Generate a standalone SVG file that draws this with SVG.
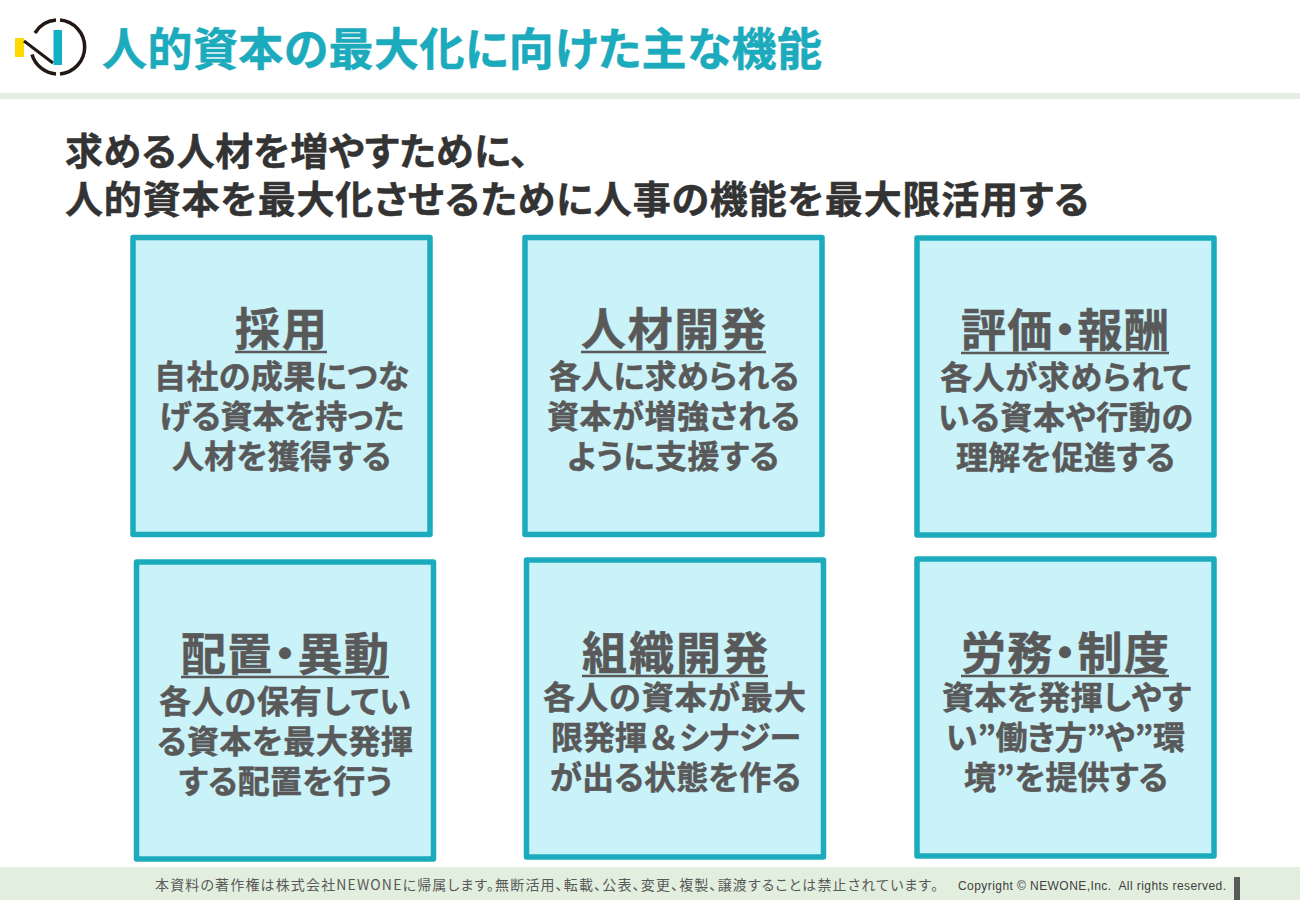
<svg xmlns="http://www.w3.org/2000/svg" width="1300" height="900" viewBox="0 0 1300 900">
<style>
text{font-family:"Noto Sans CJK JP","Noto Sans",sans-serif;font-feature-settings:"palt"}
.box{fill:#c9f2f9;stroke:#1caabd;stroke-width:5.500;stroke-linejoin:round}
.h{font-size:45px;font-weight:700;fill:#595959;stroke:#595959;stroke-width:.5}
.b{font-size:32px;font-weight:700;fill:#595959;stroke:#595959;stroke-width:.5}
.u{stroke:#595959;stroke-width:2.5}
.sub{font-size:38px;font-weight:700;fill:#333;stroke:#333;stroke-width:.5}
.wide{font-feature-settings:normal}
</style>
<rect width="1300" height="900" fill="#fff"/>
<g id="header">
<rect x="0" y="93" width="1300" height="6" fill="#e2efdf"/>
<rect x="15" y="38" width="9" height="19" fill="#ffd900"/>
<path d="M60 20.100A27 27 0 0 1 60 73.900M56 73.900A27 27 0 0 1 32 54.500M35 33A27 27 0 0 1 56 20.100" fill="none" stroke="#231815" stroke-width="3.500"/>
<path d="M24 41L53 63" fill="none" stroke="#231815" stroke-width="3"/>
<rect x="53.500" y="30" width="8.500" height="35" fill="#12b0c4"/>
<text x="102" y="66" font-size="45" font-weight="700" fill="#1caabd" stroke="#1caabd" stroke-width=".5" textLength="720">人的資本の最大化に向けた主な機能</text>
</g>
<g id="subtitle">
<text class="sub" x="65" y="165" textLength="464">求める人材を増やすために、</text>
<text class="sub" x="65" y="213" textLength="1024">人的資本を最大化させるために人事の機能を最大限活用する</text>
</g>
<g id="node-saiyo">
<rect class="box" x="133" y="237.500" width="297" height="297"/>
<text class="h" x="235" y="346" textLength="92">採用</text><line class="u" x1="235" y1="352" x2="327" y2="352"/>
<text class="b" x="154" y="388" textLength="255">自社の成果につな</text>
<text class="b" x="159" y="428" textLength="245">げる資本を持った</text>
<text class="b" x="172" y="468" textLength="219">人材を獲得する</text>
</g>
<g id="node-jinzai">
<rect class="box" x="525" y="237.500" width="297" height="297"/>
<text class="h" x="581" y="346" textLength="185">人材開発</text><line class="u" x1="581" y1="352" x2="766" y2="352"/>
<text class="b" x="549" y="388" textLength="250">各人に求められる</text>
<text class="b" x="547" y="428" textLength="253">資本が増強される</text>
<text class="b" x="567" y="468" textLength="212">ように支援する</text>
</g>
<g id="node-hyoka">
<rect class="box" x="917" y="238" width="297" height="297"/>
<text class="h" x="961" y="347" textLength="208">評価・報酬</text><line class="u" x1="961" y1="353" x2="1169" y2="353"/>
<text class="b" x="940" y="389" textLength="251">各人が求められて</text>
<text class="b" x="938" y="429" textLength="255">いる資本や行動の</text>
<text class="b" x="956" y="469" textLength="219">理解を促進する</text>
</g>
<g id="node-haichi">
<rect class="box" x="136.500" y="562" width="297" height="297"/>
<text class="h" x="181" y="671" textLength="208">配置・異動</text><line class="u" x1="181" y1="677" x2="389" y2="677"/>
<text class="b" x="159" y="713" textLength="252">各人の保有してい</text>
<text class="b" x="157" y="753" textLength="256">る資本を最大発揮</text>
<text class="b" x="179" y="793" textLength="213">する配置を行う</text>
</g>
<g id="node-soshiki">
<rect class="box" x="526.500" y="560" width="297" height="297"/>
<text class="h" x="582" y="670" textLength="186">組織開発</text><line class="u" x1="582" y1="676" x2="768" y2="676"/>
<text class="b" x="543" y="709" textLength="263">各人の資本が最大</text>
<text class="b" x="551" y="749" textLength="250">限発揮<tspan class="wide">＆</tspan>シナジー</text>
<text class="b" x="550" y="789" textLength="251">が出る状態を作る</text>
</g>
<g id="node-romu">
<rect class="box" x="917" y="559" width="297" height="297"/>
<text class="h" x="961" y="670" textLength="208">労務・制度</text><line class="u" x1="961" y1="676" x2="1169" y2="676"/>
<text class="b" x="942" y="709" textLength="249">資本を発揮しやす</text>
<text class="b" x="946" y="749" textLength="239">い”働き方”や”環</text>
<text class="b" x="964" y="789" textLength="204">境”を提供する</text>
</g>
<g id="footer">
<rect x="0" y="867" width="1300" height="33" fill="#e2efdf"/>
<text x="155" y="890" font-size="14" fill="#595959" textLength="783">本資料の著作権は株式会社NEWONEに帰属します。無断活用、転載、公表、変更、複製、譲渡することは禁止されています。</text>
<text x="958" y="890" font-size="12" fill="#404040" style="font-family:'Liberation Sans',sans-serif" textLength="268">Copyright © NEWONE,Inc.&#160; All rights reserved.</text>
<rect x="1234" y="877" width="6" height="23" fill="#595959"/>
</g>
</svg>
